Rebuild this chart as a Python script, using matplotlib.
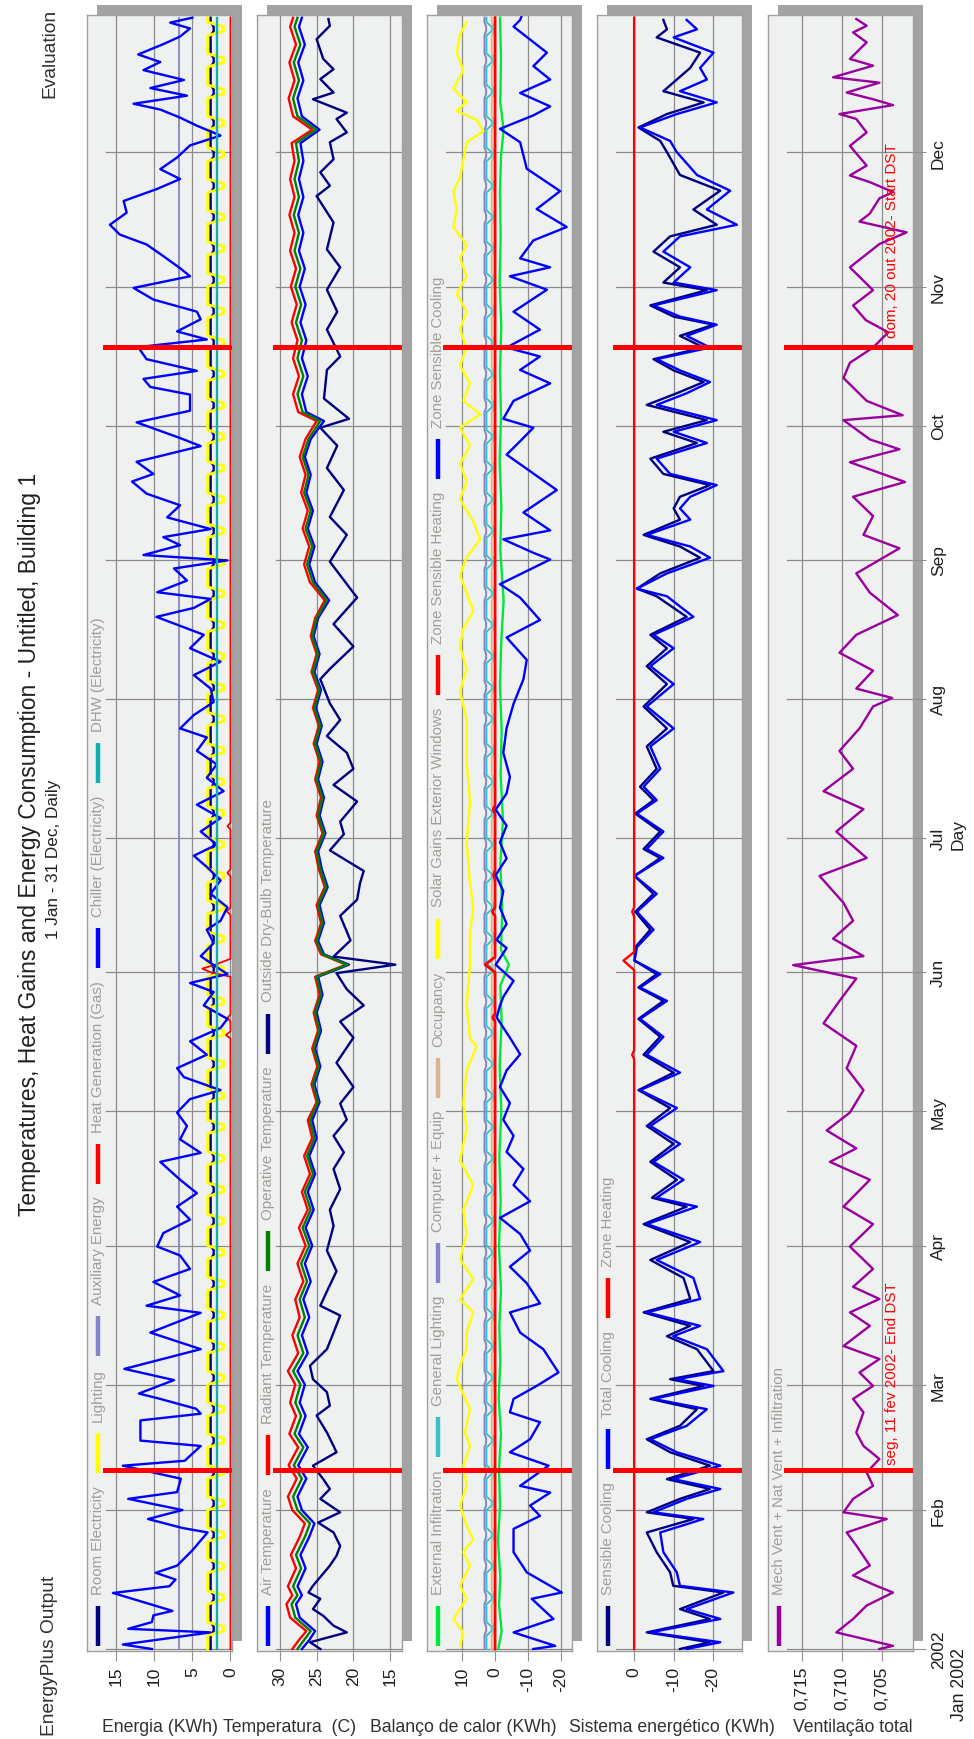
import numpy as np
import pandas as pd
from matplotlib import pyplot as plt
from matplotlib.lines import Line2D
from matplotlib.patches import Rectangle
from matplotlib import transforms

W, H = 974, 1740
plt.rcParams['font.family'] = ['Liberation Sans', 'DejaVu Sans']

# ---------------- calendar ----------------
days = pd.date_range('2002-01-01', '2002-12-31', freq='D')
day_no = np.arange(len(days))
weekend = days.weekday >= 5

month_days = [0, 31, 59, 90, 120, 151, 181, 212, 243, 273, 304, 334]
month_labels = ['2002', 'Feb', 'Mar', 'Apr', 'May', 'Jun', 'Jul', 'Aug',
                'Sep', 'Oct', 'Nov', 'Dec']
dst_days = [40, 290.5]

# ---------------- panel 1: energy (kWh) ----------------
room_elec_weekday, room_elec_weekend = 2.6, 2.2
lighting_weekday, lighting_weekend = 3.0, 0.9
aux_energy = 6.7
dhw_elec = 1.8

heatgen_day = [0, 136.2, 137.0, 137.8, 140.0, 140.8, 141.6, 150.0, 151.0, 151.8, 152.7, 154.0,
               163.8, 164.6, 165.4, 172.4, 173.2, 174.0, 182.8, 183.6, 184.4, 364]
heatgen_kwh = [0, 0, 0.6, 0, 0, 0.4, 0, 0, 2.6, 3.7, 2.0, 0,
               0, 0.5, 0, 0, 0.4, 0, 0, 0.4, 0, 0]

chiller_day = [0, 1, 3.7, 4.5, 6, 7.5, 8.5, 12.5, 14, 15.5, 17, 18.6, 22, 26, 27, 29, 31, 33.5, 35, 38,
               40.9, 42, 45.3, 46.5, 51, 52.5, 53.6, 55.8, 57, 60, 62.5, 66.9, 70.6, 75, 76.6,
               78.9, 81.9, 84.8, 87.8, 89.8, 92.8, 95.8, 98.7, 101.7, 104.7, 108.7, 110.7, 113.7, 116.7,
               119.7, 122.7, 124.7, 127.6, 129.6, 132.6, 135.6, 138.6, 140.6, 143.6, 146.6, 148.6, 150.6,
               152.6, 154.6, 157.5, 160.5, 162.5, 165.5, 168.5, 171.5, 174.5, 177, 179.5, 182.4, 185.4,
               188.4, 191.4, 194.4, 197.4, 200.4, 203.4, 205.4, 208.4, 211.3, 214.3, 217.3, 220.3, 223.3,
               226.3, 228.3, 230.3, 232.3, 234.3,
               235.8, 238.4, 241.1, 242.9, 244.1, 246.3, 248.1, 249.9, 252.5, 255.2, 257.8, 260.5, 262.2,
               264.9, 268.4, 270.2, 273.7, 276.3, 279.9, 281.6, 283.4, 285.2, 287.8, 290.5, 292.2, 294.0,
               296.7, 298.4, 301.1, 303.7, 306.3, 308.1, 310.8, 313.4, 315.6, 317.8, 320.5, 323.1, 325.8,
               328.0, 330.2, 332.8, 335.5, 337.7, 339.9, 341.7, 343.5, 344.8, 346.6, 348.3, 350.1, 352.3,
               354.1, 355.8, 358.1, 359.8, 361.6, 362.9, 364]
chiller_kwh = [10.3, 14.1, 2.6, 13.4, 10.3, 10.1, 7.6, 15.4, 8.0, 7.2, 9.8, 7.0, 5.0, 3.0, 6.3, 10.8, 6.3,
               13.4, 7.0, 6.5, 14.1, 6.0, 3.9, 11.8, 11.8, 3.9, 4.5, 9.2, 12.0, 7.4, 13.9, 3.9, 10.5, 3.9, 11.0,
               6.6, 10.1, 5.3, 6.6, 9.6, 8.8, 5.3, 7.0, 4.4, 6.6, 9.2, 3.9, 6.6, 5.7, 7.0, 5.3, 1.3, 6.1, 7.0,
               3.1, 5.3, 1.3, 0.4, 3.5, 2.2, 5.3, 0.4, 2.2, 3.9, 2.2, 3.1, 1.3, 0.4, 2.6, 1.3, 3.1, 4.8, 1.8,
               3.9, 1.3, 4.4, 0.9, 3.1, 1.8, 4.4, 3.1, 6.6, 4.8, 2.2, 2.6, 4.8, 1.3, 5.3, 3.5, 6.6, 9.7, 4.8, 2.6,
               9.6, 5.7, 7.4, 0.4, 11.4, 6.6, 8.8, 2.6, 8.3, 6.6, 11.0, 12.9, 10.1, 12.3, 3.9, 6.6, 12.3, 5.3,
               5.3, 10.5, 11.4, 4.4, 11.0, 12.1, 3.1, 7.0, 3.9, 4.4, 10.1, 12.7, 5.3, 6.6, 8.8, 11.0, 14.5,
               15.8, 13.6, 14.0, 9.6, 6.6, 9.2, 7.0, 5.3, 1.3, 4.4, 6.6, 9.2, 12.7, 5.7, 10.5, 6.1, 11.4, 9.2,
               12.1, 8.8, 6.6, 5.3, 7.9, 5.0]

# ---------------- panel 2: temperatures (C) ----------------
t_day = [0, 2, 4, 7, 10, 12, 14, 18, 21, 25, 28, 31, 34, 38, 41, 45, 48, 52, 55, 59,
         62, 66, 70, 74, 78, 82, 86, 90, 94, 98, 102, 106, 110, 114, 118, 122, 126, 130, 134, 138,
         142, 146, 150, 152.7, 155, 158, 162, 166, 170, 174, 178, 182, 186, 190, 194, 198, 202, 206,
         210, 214, 218, 222, 226, 230, 234, 238, 242, 246, 250, 254, 258, 262, 266, 270, 274, 276,
         280, 284, 288, 292, 296, 300, 304, 308, 312, 316, 320, 324, 328, 332, 336, 339, 342, 346,
         350, 354, 358, 362, 364]
air_c = [27.0, 26.0, 25.2, 27.3, 27.8, 27.0, 27.6, 26.5, 27.2, 26.0, 25.3, 27.0, 27.6, 26.4, 27.5,
         26.2, 27.4, 26.5, 27.3, 26.6, 27.6, 26.2, 27.0, 26.0, 26.8, 25.8, 26.6, 25.6, 26.5, 25.4,
         26.2, 25.2, 26.0, 25.0, 25.6, 24.6, 25.3, 24.5, 25.2, 24.4, 25.0, 24.2, 24.8, 20.6, 24.0,
         24.8, 24.0, 24.6, 23.5, 24.3, 24.8, 23.8, 24.6, 24.0, 24.8, 24.2, 25.0, 24.3, 25.1, 24.4,
         25.3, 24.6, 25.4, 24.8, 23.3, 25.2, 26.0, 25.3, 26.2, 25.5, 26.4, 25.8, 26.6, 25.8, 24.0,
         26.4, 27.0, 26.2, 27.0, 26.4, 27.2, 26.5, 27.3, 26.6, 27.4, 26.8, 27.5, 26.8, 27.4, 26.8,
         27.2, 24.6, 27.0, 27.6, 26.8, 27.5, 26.6, 27.4, 27.0]
radiant_c = [28.3, 27.4, 26.4, 28.6, 29.1, 28.3, 28.9, 27.8, 28.5, 27.3, 26.6, 28.3, 28.9, 27.7, 28.8,
             27.5, 28.7, 27.8, 28.6, 27.9, 28.9, 27.5, 28.3, 27.3, 27.9, 26.8, 27.6, 26.5, 27.4, 26.2,
             27.0, 25.9, 26.7, 25.6, 26.2, 25.0, 25.7, 24.9, 25.6, 24.8, 25.4, 24.6, 25.2, 21.0, 24.4,
             25.2, 24.4, 25.0, 23.9, 24.7, 25.2, 24.2, 25.0, 24.4, 25.2, 24.6, 25.4, 24.7, 25.5, 24.8,
             25.7, 25.0, 25.8, 25.2, 23.9, 25.9, 26.7, 26.0, 26.9, 26.2, 27.1, 26.5, 27.3, 26.5, 25.0,
             27.5, 28.2, 27.4, 28.2, 27.6, 28.4, 27.7, 28.5, 27.8, 28.6, 28.0, 28.7, 28.0, 28.6, 28.0,
             28.4, 25.6, 28.2, 28.8, 28.0, 28.7, 27.8, 28.6, 28.2]
operative_c = [27.6, 26.7, 25.8, 27.9, 28.4, 27.6, 28.2, 27.1, 27.8, 26.6, 25.9, 27.6, 28.2, 27.0, 28.1,
               26.8, 28.0, 27.1, 27.9, 27.2, 28.2, 26.8, 27.6, 26.6, 27.3, 26.3, 27.1, 26.0, 26.9, 25.8,
               26.6, 25.5, 26.3, 25.3, 25.9, 24.8, 25.5, 24.7, 25.4, 24.6, 25.2, 24.4, 25.0, 20.8, 24.2,
               25.0, 24.2, 24.8, 23.7, 24.5, 25.0, 24.0, 24.8, 24.2, 25.0, 24.4, 25.2, 24.5, 25.3, 24.6,
               25.5, 24.8, 25.6, 25.0, 23.6, 25.5, 26.3, 25.6, 26.5, 25.8, 26.7, 26.1, 26.9, 26.1, 24.5,
               26.9, 27.6, 26.8, 27.6, 27.0, 27.8, 27.1, 27.9, 27.2, 28.0, 27.4, 28.1, 27.4, 28.0, 27.4,
               27.8, 25.1, 27.6, 28.2, 27.4, 28.1, 27.2, 28.0, 27.6]
outside_day = [0, 1.5, 3.7, 5.2, 7.4, 8.9, 11.2, 12.6, 14.1, 18.6, 20.8, 23, 26, 28.2, 30.5, 33.5, 35.7,
               37.9, 40.9, 43.9, 45.3, 48.3, 52.1, 54.3, 57.3, 60.2, 63.2, 66.9, 70.6, 74.4, 76.6, 79.8,
               84.3, 88.9, 94.4, 98.0, 102.6, 107.1, 110.8, 114.5, 118.1, 121.7, 125.4, 130.8, 136.4,
               140.0, 143.6, 147.2, 150.8, 152.7, 154.5, 158.1, 163.6, 167.2, 170.9, 173.6, 178.2, 181.8,
               184.6, 189.1, 192.8, 196.4, 200.0, 203.7, 207.3, 211.0, 216.4, 218.7, 223.7, 228.7, 234.6,
               242.6, 248.6, 252.6, 258.6, 263.5, 268.5, 272.5, 274.5, 279.0, 285.4, 288.4, 294.4, 298.4,
               303.3, 308.3, 312.3, 318.3, 324.2, 326.5, 329.5, 332.4, 336.2, 338.4, 341.4, 342.8, 345.8,
               347.3, 350.3, 352.5, 354.8, 359.2, 362.2, 363.7]
outside_c = [24.5, 25.9, 20.9, 22.7, 24.1, 25.5, 24.5, 26.1, 25.5, 23.2, 22.3, 21.8, 22.7, 24.8, 21.8,
             24.5, 23.2, 24.1, 25.5, 22.3, 22.7, 23.6, 25.0, 23.2, 23.6, 25.5, 25.9, 23.6, 22.7, 21.8,
             24.5, 23.6, 22.3, 23.6, 22.7, 23.2, 21.8, 22.7, 21.3, 22.7, 20.9, 21.8, 20.0, 22.3, 20.0,
             21.8, 18.6, 20.9, 22.3, 14.3, 22.7, 20.4, 21.8, 19.5, 19.1, 18.6, 23.2, 21.3, 21.8, 19.5,
             22.7, 20.0, 20.9, 23.6, 21.8, 23.2, 24.5, 23.2, 20.0, 22.7, 19.5, 23.2, 20.9, 23.2, 21.3,
             23.6, 22.2, 24.5, 20.6, 24.0, 23.6, 21.8, 23.6, 22.2, 23.6, 21.8, 23.6, 22.7, 25.0, 23.2,
             24.5, 22.7, 23.2, 20.9, 22.3, 20.9, 25.5, 22.7, 24.5, 22.7, 24.1, 25.0, 23.2, 23.4]

# ---------------- panel 3: heat balance (kWh) ----------------
infil_day = [0, 4, 10, 16, 24, 32, 40, 48, 56, 64, 72, 80, 90, 100, 110, 120, 130, 140, 148, 152.7,
             156, 165, 175, 185, 195, 205, 215, 225, 234, 245, 255, 265, 275, 285, 295, 305, 315, 325,
             333, 339, 345, 355, 364]
infil_kwh = [-1.0, -2.0, -1.2, -1.6, -0.9, -1.5, -1.2, -1.8, -1.1, -1.6, -1.3, -1.8, -1.2, -1.7, -1.3,
             -1.9, -1.4, -2.0, -1.6, -4.2, -1.8, -2.2, -1.6, -2.4, -1.7, -2.0, -1.5, -1.9, -2.6, -1.6,
             -1.9, -1.4, -1.8, -1.5, -1.9, -1.4, -1.7, -1.5, -1.8, -2.6, -1.6, -1.8, -1.5]
gen_light_weekday, gen_light_weekend = 2.6, 1.0
equip_weekday, equip_weekend = 3.2, 2.7
occup_weekday, occup_weekend = 1.0, 0.3
solar_day = [0.7, 3.7, 6.7, 11.2, 14.1, 18.6, 21.6, 24.5, 27.5, 32, 36.4, 40.9, 45.3, 48.3, 53.5, 60.2,
             63.2, 66.9, 70.6, 75.1, 78.0, 82.5, 87.0, 92.5, 98.0, 103.5, 109.0, 116.2, 121.8, 129.1,
             134.5, 136.3, 143.6, 152.7, 160.0, 165.4, 170.9, 180.0, 189.1, 198.2, 207.3, 213.7, 218.7,
             223.7, 227.7, 231.6, 235.6, 239.6, 243.6, 247.6, 251.6, 256.6, 260.5, 264.5, 268.5, 272.5,
             275.5, 278.5, 282.4, 286.4, 290.4, 294.4, 298.4, 302.4, 306.3, 310.3, 313.3, 317.3, 321.3,
             325.3, 328.3, 332.2, 336.2, 338.7, 341.2, 343.2, 345.2, 348.2, 352.2, 356.2, 360.2, 363]
solar_kwh = [10.6, 9.6, 12.6, 8.6, 10.6, 7.6, 9.6, 6.6, 8.6, 10.6, 8.6, 9.6, 7.6, 9.1, 7.6, 11.6, 10.6,
             8.6, 8.6, 6.6, 10.6, 6.6, 10.6, 8.6, 9.6, 6.6, 10.6, 8.6, 9.6, 8.6, 5.6, 7.6, 8.6, 7.6, 7.6,
             6.6, 7.6, 8.6, 7.6, 8.6, 8.6, 10.6, 8.6, 10.6, 9.6, 6.6, 8.6, 10.6, 8.6, 4.5, 6.6, 10.6, 8.6,
             10.6, 7.6, 10.6, 4.5, 9.6, 7.6, 10.6, 8.6, 10.6, 8.6, 11.6, 8.6, 10.6, 8.6, 12.6, 11.6, 12.6,
             10.6, 9.6, 8.6, 3.5, 5.6, 11.6, 8.6, 12.6, 9.6, 11.6, 10.6, 8.6]
zs_heat_day = [0, 140.0, 140.9, 141.8, 151.0, 152.7, 154.4, 163.5, 164.5, 165.5, 171.7, 172.7, 173.7,
               186.3, 187.3, 188.3, 364]
zs_heat_kwh = [0, 0, 0.7, 0, 0, 3.0, 0, 0, 0.8, 0, 0, 0.5, 0, 0, 0.6, 0, 0]
zs_cool_day = [0, 0.7, 3.7, 6.7, 11.2, 12.6, 17.1, 21.6, 26.8, 29.7, 32, 34.9, 36.4, 40.9, 43.9, 46.8,
               50.6, 52.8, 55.8, 58.7, 61.7, 66.9, 70.6, 75.1, 77.1, 81.6, 85.3, 88.9, 92.6, 96.2, 99.9,
               103.5, 107.1, 110.9, 114.5, 118.1, 121.8, 125.4, 129.1, 132.7, 136.4, 140.9, 143.6, 145.5,
               149.1, 152.7, 156.4, 158.2, 161.8, 165.4, 169.1, 172.7, 176.4, 180, 183.7, 187.3, 190.9,
               194.6, 200, 205.5, 210.9, 216.4, 220.7, 225.7, 229.6, 234.6, 237.6, 243.1, 244.6, 247.6,
               249.6, 253.6, 258.6, 266.5, 269.5, 272.5, 274.5, 278.5, 282.4, 285.4, 288.4, 290.4, 294.4,
               298.4, 303.3, 306.3, 308.3, 310.3, 314.3, 317.3, 321.3, 325.3, 330.3, 336.2, 339.2, 342.2,
               344.2, 347.2, 350.2, 353.2, 356.2, 362, 363.5, 364.3]
zs_cool_kwh = [-11.6, -18.2, -5.6, -17.7, -11.1, -20.2, -9.6, -5.6, -5.6, -13.6, -10.6, -16.7, -7.6,
               -16.2, -4.5, -10.6, -13.6, -4.5, -5.6, -12.6, -19.2, -14.6, -7.6, -4.5, -13.6, -9.6, -4.5,
               -10.6, -7.6, -1.5, -10.6, -5.6, -8.6, -3.5, -5.6, -2.5, -4.5, -1.5, -3.5, -7.6, -4.5, -0.5,
               -1.5, -2.5, -5.6, -0.2, -3.5, -0.5, -3.5, -1.5, -2.5, -0.2, -3.5, -1.5, -3.5, -0.2, -3.5,
               -4.5, -2.5, -3.5, -5.6, -8.6, -9.6, -3.5, -13.6, -7.6, -1.5, -16.7, -11.6, -2.5, -16.7,
               -8.6, -18.7, -3.5, -7.6, -11.6, -2.5, -5.6, -16.7, -7.6, -13.6, -3.5, -13.6, -5.6, -15.7,
               -4.5, -16.7, -7.6, -11.6, -21.7, -12.6, -19.7, -9.6, -7.6, -1.5, -11.6, -16.7, -7.6, -16.7,
               -11.6, -15.7, -5.6, -7.6, -8.0]

# ---------------- panel 4: system energy (kWh) ----------------
cool_day = [0, 1.5, 3.7, 6.7, 8.9, 12.6, 14.1, 17.1, 21.6, 26.0, 29.0, 30.5, 33.5, 35.7, 37.9, 40.9,
            43.9, 46.8, 49.8, 53.5, 55.8, 58.7, 60.2, 62.0, 66.9, 69.8, 72.1, 75.1, 78.1,
            82.8, 86.8, 90.8, 94.8, 98.7, 100.7, 104.7, 108.7, 112.7, 116.7, 120.7, 124.7, 128.6, 132.6,
            136.6, 140.6, 144.6, 147.6, 150.6, 153.6, 156.6, 160.5, 164.5, 168.5, 172.5, 176.5, 178.5,
            182.4, 186.4, 189.4, 192.4, 196.4, 201.4, 205.4, 210.3, 215.3, 219.3, 223.3, 226.3, 230.3,
            234.9, 236.6, 240.0, 243.5, 246.0, 248.6, 252.0, 254.5, 257.1, 259.7, 262.2, 265.6, 269.1,
            271.6, 274.2, 277.6, 280.2, 282.7, 285.3, 287.8, 290.4, 293.0, 295.5, 297.3, 299.8, 303.2,
            304.9, 308.3, 311.8, 315.2, 317.8, 321.2, 325.4, 328.9, 334.0, 336.5, 339.5, 342.5, 345.1,
            347.6, 350.2, 352.8, 356.2, 359.6, 361.4, 363.5]
total_cool = [-13.3, -21.8, -4.1, -21.8, -13.3, -25.1, -11.6, -10.8, -7.4, -6.6, -17.5, -4.9, -13.3,
              -21.8, -9.9, -21.8, -10.8, -4.1, -13.3, -18.4, -4.9, -20.1, -10.8, -22.6, -18.4, -9.9,
              -16.7, -3.2, -16.7,
              -15.0, -5.7, -16.7, -3.2, -15.9, -5.7, -12.5, -4.9, -11.6, -4.1, -10.8, -1.5, -11.6, -3.2,
              -7.4, -1.5, -8.3, -1.5, -6.6, -0.1, -0.7, -4.9, -0.7, -5.7, -0.1, -7.4, -3.2, -7.4, -0.7,
              -5.7, -2.4, -6.6, -4.1, -10.0, -3.2, -10.0, -4.1, -10.0, -4.9, -15.0,
              -8.3, -0.7, -8.3, -19.2, -14.2, -3.2, -14.2, -11.6, -14.2, -20.9, -9.1, -5.7, -18.4, -10.0,
              -20.9, -5.7, -13.3, -19.2, -11.6, -5.7, -19.2, -13.3, -20.9, -11.6, -4.9, -20.9, -10.0,
              -14.2, -7.4, -11.6, -26.0, -18.4, -24.3, -15.9, -10.8, -9.1, -1.5, -10.8, -20.9, -11.6,
              -18.4, -16.7, -20.1, -10.0, -15.9, -13.3]
sens_cool = [-11.6, -19.2, -3.2, -19.2, -11.6, -22.6, -9.9, -9.1, -5.7, -3.2, -15.0, -3.2, -11.6, -19.2,
             -8.3, -19.2, -9.1, -3.2, -11.6, -15.9, -4.1, -17.6, -9.1, -20.1, -15.9, -8.3, -14.2, -2.4,
             -14.2,
             -12.5, -4.1, -14.2, -2.4, -13.3, -4.5, -10.8, -4.1, -10.0, -3.2, -9.1, -1.1, -10.0, -2.4,
             -6.6, -1.1, -7.4, -1.1, -5.7, -0.1, -0.3, -4.1, -0.3, -4.9, -0.1, -6.6, -2.4, -6.6, -0.3,
             -4.9, -1.5, -5.7, -3.2, -8.3, -2.4, -8.3, -3.2, -8.3, -4.1, -13.3,
             -5.7, -0.7, -6.6, -16.7, -11.6, -2.4, -11.6, -10.0, -11.6, -19.2, -7.4, -4.1, -15.9, -7.4,
             -18.4, -3.2, -10.8, -17.6, -10.0, -4.9, -17.6, -11.6, -20.1, -10.0, -4.1, -18.4, -7.4,
             -11.6, -4.9, -9.1, -20.9, -15.0, -21.8, -11.6, -8.3, -6.6, -1.1, -8.3, -17.6, -7.4, -10.8,
             -14.2, -16.7, -5.7, -8.3, -7.4]
zone_heat_day = [0, 131.6, 132.6, 133.6, 151.5, 153.6, 155.5, 163.5, 164.5, 165.5, 364]
zone_heat_kwh = [0, 0, 0.5, 0, 0, 2.7, 0, 0, 0.5, 0, 0]

# ---------------- panel 5: total ventilation ----------------
vent_day = [0, 0.7, 3.7, 6.7, 9.7, 12.6, 14.1, 16.4, 18.6, 23.1, 26.0, 29.0, 30.5, 33.5, 36.4, 39.4,
            42.4, 45.3, 48.3, 52.8, 55.8, 58.7, 61.7, 64.7, 67.6, 72.1, 75.1, 78.1, 80.8, 84.8, 89.8,
            94.8, 98.7, 104.7, 108.7, 111.7, 115.7, 119.7, 124.7, 129.6, 134.6, 139.6, 144.6, 149.6,
            152.6, 154.6, 158.5, 162.5, 166.5, 172.5, 176.5, 182.4, 187.4, 191.4, 196.4, 200.4, 205.4,
            210.3, 212.2, 214.3, 218.3, 222.3, 226.3, 230.7, 235.7, 240.0, 245.6, 248.6, 252.8, 257.1,
            260.4, 264.8, 267.7, 269.9, 274.2, 275.3, 278.5, 283.6, 287.0, 290.4, 293.8, 296.5, 299.8,
            303.2, 308.3, 313.5, 316.1, 318.5, 320.3, 323.7, 325.1, 327.3, 328.8, 331.0, 335.4, 338.4,
            341.4, 342.5, 344.5, 345.8, 347.3, 349.5, 350.7, 353.3, 354.8, 358.5, 360.7, 362.2, 363.7]
vent_val = [0.7053, 0.7036, 0.7107, 0.7086, 0.7069, 0.7036, 0.7057, 0.7086, 0.7065, 0.7082, 0.7094,
            0.7044, 0.7098, 0.7086, 0.7061, 0.7069, 0.7053, 0.7073, 0.7082, 0.7073, 0.7086, 0.7061,
            0.7078, 0.7053, 0.7098, 0.7065, 0.7090, 0.7053, 0.7086, 0.7061, 0.7090, 0.7061, 0.7098,
            0.7065, 0.7115, 0.7082, 0.7119, 0.7090, 0.7073, 0.7094, 0.7082, 0.7123, 0.7103, 0.7082,
            0.7161, 0.7073, 0.7111, 0.7086, 0.7098, 0.7128, 0.7069, 0.7107, 0.7073, 0.7123, 0.7086,
            0.7103, 0.7078, 0.7061, 0.7037, 0.7082, 0.7061, 0.7103, 0.7082, 0.7030, 0.7065, 0.7082,
            0.7028, 0.7073, 0.7061, 0.7086, 0.7021, 0.7090, 0.7028, 0.7065, 0.7098, 0.7024, 0.7069,
            0.7098, 0.7090, 0.7061, 0.7042, 0.7070, 0.7086, 0.7061, 0.7090, 0.7053, 0.7019, 0.7078,
            0.7065, 0.7053, 0.7036, 0.7065, 0.7090, 0.7069, 0.7090, 0.7069, 0.7082, 0.7103, 0.7036,
            0.7061, 0.7094, 0.7053, 0.7111, 0.7061, 0.7090, 0.7069, 0.7086, 0.7069, 0.7082]

# ---------------- colours ----------------
NAVY, YELLOW, LAVENDER, RED, BLUE, TEAL = '#000080', '#ffff00', '#8484c8', '#ff0000', '#0000ff', '#10b0b0'
GREEN, LIME, CYAN, TAN, PURPLE = '#008000', '#00e83c', '#3cc0c8', '#d8b494', '#9a009e'
GRID = '#8c8c8c'
LEG_TXT = '#a39d97'
TXT = '#1e1e1e'

fig = plt.figure(figsize=(W / 100, H / 100), dpi=100)

panel_left = [87, 257, 427, 597, 768]
panel_w = 145
top_px, bot_px = 16, 1652
xlims = [(18.8, -0.2), (33.1, 13.4), (20.6, -23.3), (9.4, -27.3), (0.71925, 0.7011)]
xticks = [[0, 5, 10, 15], [15, 20, 25, 30], [-20, -10, 0, 10], [-20, -10, 0], [0.705, 0.710, 0.715]]
xticklabels = [['0', '5', '10', '15'], ['15', '20', '25', '30'], ['-20', '-10', '0', '10'],
               ['-20', '-10', '0'], ['0,705', '0,710', '0,715']]

axes = []
for i, left in enumerate(panel_left):
    # drop shadow behind each panel
    fig.add_artist(Rectangle(((left + 10) / W, 1 - (bot_px - 10) / H), panel_w / W, (bot_px - top_px) / H,
                             transform=fig.transFigure, facecolor='#a3a3a3', edgecolor='none', zorder=-1))
    ax = fig.add_axes([left / W, 1 - bot_px / H, panel_w / W, (bot_px - top_px) / H])
    ax.set_facecolor('#eff0f0')
    ax.set_xlim(*xlims[i])
    ax.set_ylim(-0.45, 364.6)
    ax.set_xticks(xticks[i])
    ax.set_xticklabels(xticklabels[i])
    ax.tick_params(axis='x', direction='out', length=7.2, width=0.8, color='#909090', pad=3.6,
                   labelsize=12.5, labelcolor=TXT, labelrotation=90)
    ax.grid(axis='x', color=GRID, lw=0.9)
    ax.set_axisbelow(True)
    for m in month_days:
        ax.axhline(m, xmin=0.13, xmax=1, color=GRID, lw=0.9, zorder=0.6)
    for s in ax.spines.values():
        s.set_color('#a0a0a0')
        s.set_linewidth(1.0)
    if i < 4:
        ax.set_yticks([])
    axes.append(ax)

ax1, ax2, ax3, ax4, ax5 = axes
LW = 1.7

# panel 1
ax1.plot(np.where(weekend, room_elec_weekend, room_elec_weekday), day_no, color=NAVY, lw=LW)
ax1.plot(np.where(weekend, lighting_weekend, lighting_weekday), day_no, color=YELLOW, lw=2.0)
ax1.plot(np.full(len(day_no), aux_energy), day_no, color=LAVENDER, lw=1.3)
ax1.plot(heatgen_kwh, heatgen_day, color=RED, lw=1.3)
ax1.plot(chiller_kwh, chiller_day, color=BLUE, lw=LW)
ax1.plot(np.full(len(day_no), dhw_elec), day_no, color=TEAL, lw=LW)

# panel 2
ax2.plot(air_c, t_day, color=BLUE, lw=LW)
ax2.plot(radiant_c, t_day, color=RED, lw=LW)
ax2.plot(operative_c, t_day, color=GREEN, lw=LW)
ax2.plot(outside_c, outside_day, color=NAVY, lw=LW)

# panel 3
ax3.plot(infil_kwh, infil_day, color=LIME, lw=LW)
ax3.plot(np.where(weekend, gen_light_weekend, gen_light_weekday), day_no, color=CYAN, lw=1.4)
ax3.plot(np.where(weekend, equip_weekend, equip_weekday), day_no, color=LAVENDER, lw=1.4)
ax3.plot(np.where(weekend, occup_weekend, occup_weekday), day_no, color=TAN, lw=1.4)
ax3.plot(solar_kwh, solar_day, color=YELLOW, lw=LW)
ax3.plot(zs_heat_kwh, zs_heat_day, color=RED, lw=2.0)
ax3.plot(zs_cool_kwh, zs_cool_day, color=BLUE, lw=LW)

# panel 4
ax4.plot(sens_cool, cool_day, color=NAVY, lw=LW)
ax4.plot(total_cool, cool_day, color=BLUE, lw=LW)
ax4.plot(zone_heat_kwh, zone_heat_day, color=RED, lw=LW)

# panel 5
ax5.plot(vent_val, vent_day, color=PURPLE, lw=LW)
ax5.yaxis.tick_right()
ax5.set_yticks(month_days)
ax5.set_yticklabels(month_labels)
ax5.tick_params(axis='y', direction='out', length=9.4, width=0.8, color='#909090', pad=3.6,
                labelsize=12.5, labelcolor=TXT, labelrotation=90, left=False, right=True)
for lbl in ax5.get_yticklabels():
    lbl.set_va('center')

# daylight saving markers
for ax in axes:
    for d in dst_days:
        ax.axhline(d, xmin=0.125, xmax=1, color=RED, lw=3.6, zorder=5)
blend5 = transforms.blended_transform_factory(ax5.transAxes, ax5.transData)
ax5.text(0.855, 41.3, 'seg, 11 fev 2002- End DST', transform=blend5, rotation=90, ha='center',
         va='bottom', fontsize=11, color=RED, zorder=6)
ax5.text(0.855, 292.7, 'dom, 20 out 2002- Start DST', transform=blend5, rotation=90, ha='center',
         va='bottom', fontsize=11, color=RED, zorder=6)

# legends drawn along the left strip of each panel
legends = [
    [('Room Electricity', NAVY), ('Lighting', YELLOW), ('Auxiliary Energy', LAVENDER),
     ('Heat Generation (Gas)', RED), ('Chiller (Electricity)', BLUE), ('DHW (Electricity)', TEAL)],
    [('Air Temperature', BLUE), ('Radiant Temperature', RED), ('Operative Temperature', GREEN),
     ('Outside Dry-Bulb Temperature', NAVY)],
    [('External Infiltration', LIME), ('General Lighting', CYAN), ('Computer + Equip', LAVENDER),
     ('Occupancy', TAN), ('Solar Gains Exterior Windows', YELLOW), ('Zone Sensible Heating', RED),
     ('Zone Sensible Cooling', BLUE)],
    [('Sensible Cooling', NAVY), ('Total Cooling', BLUE), ('Zone Heating', RED)],
    [('Mech Vent + Nat Vent + Infiltration', PURPLE)],
]
renderer = fig.canvas.get_renderer()
for left, entries in zip(panel_left, legends):
    x = (left + 11) / W
    y = 1647
    for label, color in entries:
        fig.add_artist(Line2D([x, x], [1 - y / H, 1 - (y - 40) / H], transform=fig.transFigure,
                              color=color, lw=3.2, solid_capstyle='butt', zorder=4))
        y -= 52
        t = fig.text(x, 1 - y / H, label, rotation=90, ha='center', va='bottom', fontsize=10.8,
                     color=LEG_TXT, zorder=4)
        y -= t.get_window_extent(renderer).height + 12

# axis titles along the bottom
for xpx, label in [(102, 'Energia (KWh)'), (223, 'Temperatura  (C)'), (370, 'Balanço de calor (KWh)'),
                   (569, 'Sistema energético (KWh)'), (793, 'Ventilação total')]:
    fig.text(xpx / W, 1 - 1728 / H, label, ha='left', va='center', fontsize=12.7, color='#303030')

fig.text(30 / W, 1 - 844 / H, 'Temperatures, Heat Gains and Energy Consumption - Untitled, Building 1',
         rotation=90, ha='center', va='center', fontsize=16.5, color='#202020')
fig.text(54 / W, 1 - 859 / H, '1 Jan - 31 Dec, Daily', rotation=90, ha='center', va='center',
         fontsize=12.3, color='#202020')
fig.text(50 / W, 1 - 53 / H, 'Evaluation', rotation=90, ha='center', va='center', fontsize=13.8,
         color='#303030')
fig.text(50 / W, 1 - 1656 / H, 'EnergyPlus Output', rotation=90, ha='center', va='center', fontsize=13.8,
         color='#303030')
fig.text(958 / W, 1 - 835 / H, 'Day', rotation=90, ha='center', va='center', fontsize=12.5, color=TXT)
fig.text(960 / W, 1 - 1685 / H, 'Jan 2002', rotation=90, ha='center', va='center', fontsize=12.7, color=TXT)

fig.savefig('out.png', dpi=100)
